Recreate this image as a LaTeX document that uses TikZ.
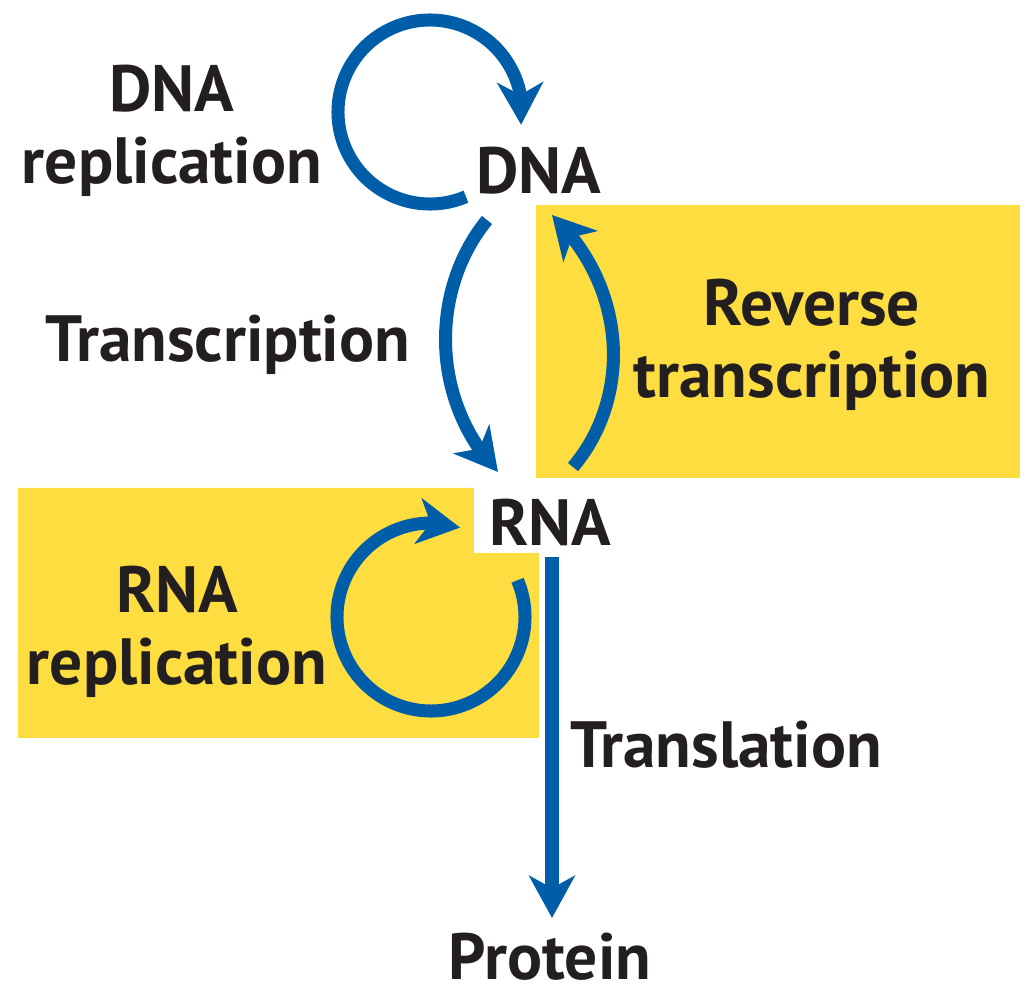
\documentclass[tikz,border=0pt]{standalone}
\usepackage{fontspec}
\setmainfont{PT Sans}
\usetikzlibrary{arrows.meta, bending}

\definecolor{flowblue}{RGB}{0,94,168}
\definecolor{boxyellow}{RGB}{253,221,64}
\definecolor{inkgray}{RGB}{35,31,32}

\tikzset{
  lbl/.style={font=\bfseries\fontsize{18.6}{20.5}\selectfont, text=inkgray, align=center, inner sep=0pt},
  flow/.style={draw=flowblue, line width=3.7pt, -{Stealth[length=12pt, width=13pt, inset=3.5pt]}}
}

\begin{document}
\begin{tikzpicture}[x=0.01cm, y=-0.01cm]
  \useasboundingbox (0,0) rectangle (1035,1000);

  % Yellow panels
  \fill[boxyellow] (536,205) rectangle (1020,478);
  \fill[boxyellow] (18,488) -- (474,488) -- (474,553) -- (539,553) -- (539,738) -- (18,738) -- cycle;

  % Molecules
  \node[lbl] (dna) at (539,171) {DNA};
  \node[lbl] (rna) at (550,522) {RNA};
  \node[lbl] (protein) at (550,957) {Protein};

  % Process labels
  \node[lbl] (dnarep) at (172,131) {DNA\\replication};
  \node[lbl] (transc) at (228,345) {Transcription};
  \node[lbl] (revtransc) at (812,345) {Reverse\\transcription};
  \node[lbl] (rnarep) at (177,632) {RNA\\replication};
  \node[lbl] (transl) at (726,745) {Translation};

  % Loop centres and arrow ends
  \coordinate (dnaloop) at (430,112);
  \coordinate (rnaloop) at (431,617);
  \coordinate (dnaout) at (487,220);
  \coordinate (rnain) at (498,472);
  \coordinate (rnaup) at (573,467);
  \coordinate (dnain) at (552,215);
  \coordinate (rnaout) at (552,557);
  \coordinate (proteinin) at (552,918);

  % Arrows
  \draw[flow] ([shift={(67:92)}]dnaloop) arc[start angle=67, end angle=368, radius=92];
  \draw[flow] (dnaout) .. controls (430,290) and (430,400) .. (rnain);
  \draw[flow] (rnaup) .. controls (630,400) and (630,290) .. (dnain);
  \draw[flow] ([shift={(-23:94)}]rnaloop) arc[start angle=-23, end angle=288, radius=94];
  \draw[flow] (rnaout) -- (proteinin);
\end{tikzpicture}
\end{document}
